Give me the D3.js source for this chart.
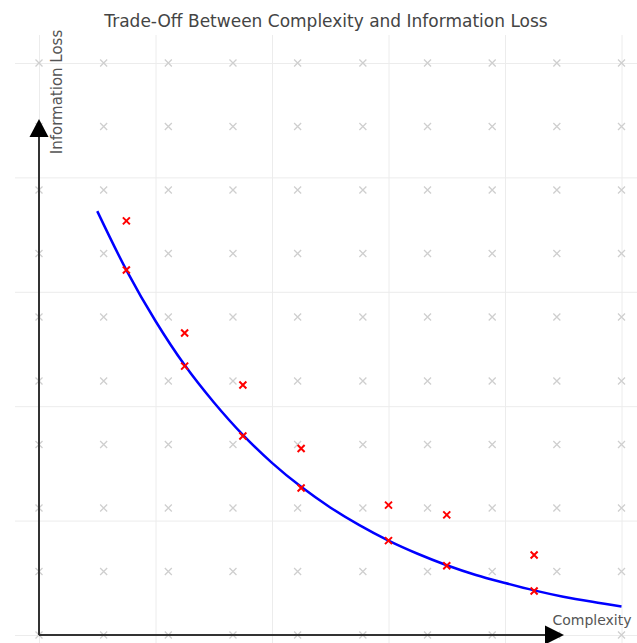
<!DOCTYPE html>
<html>
<head>
<meta charset="utf-8">
<script src="https://cdn.jsdelivr.net/npm/d3@7"></script>
<style>
  body { margin: 0; background: #fff; }
  svg { display: block; font-family: "DejaVu Sans", sans-serif; }
</style>
</head>
<body>
<div id="chart"></div>
<script>
// chart size and the pixel frame of the data area
const WIDTH = 637;
const HEIGHT = 643;
const X0 = 39, X1 = 621.5;   // x = 0 .. 10
const Y0 = 635, Y1 = 63;     // y = 0 .. 10

// background marker lattice (10 x 10)
const latticeX = [0, 1.11, 2.22, 3.33, 4.44, 5.56, 6.67, 7.78, 8.89, 10];
const latticeY = [0, 1.11, 2.22, 3.33, 4.44, 5.56, 6.67, 7.78, 8.89, 10];
const gridTicks = [0, 2, 4, 6, 8, 10];

// trade-off curve
const curveX = [1, 1.5, 2, 2.5, 3, 3.5, 4, 4.5, 5, 5.5, 6, 6.5, 7, 7.5, 8, 8.5, 9, 9.5, 10];
const curveY = [7.41, 6.38, 5.49, 4.72, 4.07, 3.5, 3.01, 2.59, 2.23, 1.92, 1.65, 1.42, 1.22, 1.05, 0.91, 0.78, 0.67, 0.58, 0.5];

// red sample points
const sampleX = [1.5, 2.5, 3.5, 4.5, 6, 7, 8.5];
const onCurveY = [6.38, 4.7, 3.48, 2.57, 1.65, 1.21, 0.77];
const observedY = [7.24, 5.28, 4.37, 3.26, 2.27, 2.1, 1.4];

const svg = d3.select("#chart")
  .append("svg")
  .attr("width", WIDTH)
  .attr("height", HEIGHT);

const x = d3.scaleLinear().domain([0, 10]).range([X0, X1]);
const y = d3.scaleLinear().domain([0, 10]).range([Y0, Y1]);

// faint grid
const gridTop = 35, gridLeft = 15;
svg.append("g")
  .attr("class", "grid-x")
  .attr("transform", `translate(0,${HEIGHT})`)
  .call(d3.axisBottom(x).tickValues(gridTicks).tickSize(-(HEIGHT - gridTop)).tickFormat(""))
  .call(g => g.select(".domain").remove());
svg.append("g")
  .attr("class", "grid-y")
  .attr("transform", `translate(${gridLeft},0)`)
  .call(d3.axisLeft(y).tickValues(gridTicks).tickSize(-(WIDTH - gridLeft)).tickFormat(""))
  .call(g => g.select(".domain").remove());
svg.selectAll(".grid-x line, .grid-y line")
  .attr("stroke", "#ececec")
  .attr("stroke-width", 1);

// cross marker path
function cross(s) {
  return `M${-s},${-s}L${s},${s}M${-s},${s}L${s},${-s}`;
}

// gray lattice markers
const lattice = [];
latticeY.forEach(ly => latticeX.forEach(lx => lattice.push([lx, ly])));
svg.append("g")
  .selectAll("path")
  .data(lattice)
  .join("path")
  .attr("transform", d => `translate(${x(d[0])},${y(d[1])})`)
  .attr("d", cross(3.5))
  .attr("stroke", "#cfcfcf")
  .attr("stroke-width", 1.3)
  .attr("fill", "none");

// axes with arrows
const axisG = svg.append("g");
axisG.append("line")
  .attr("x1", x(0)).attr("y1", y(0))
  .attr("x2", x(0)).attr("y2", 137)
  .attr("stroke", "#333").attr("stroke-width", 2);
axisG.append("path")
  .attr("d", `M${x(0)},119L${x(0) - 9.5},137L${x(0) + 9.5},137Z`)
  .attr("fill", "#000");
axisG.append("line")
  .attr("x1", x(0)).attr("y1", y(0))
  .attr("x2", 545).attr("y2", y(0))
  .attr("stroke", "#333").attr("stroke-width", 2);
axisG.append("path")
  .attr("d", `M564,${y(0)}L545,${y(0) - 9.5}L545,${y(0) + 9.5}Z`)
  .attr("fill", "#000");

// blue curve
const line = d3.line()
  .x(d => x(d[0]))
  .y(d => y(d[1]))
  .curve(d3.curveCatmullRom);
svg.append("path")
  .datum(curveX.map((cx, i) => [cx, curveY[i]]))
  .attr("d", line)
  .attr("fill", "none")
  .attr("stroke", "#0000ff")
  .attr("stroke-width", 2.5);

// red points
const red = svg.append("g");
red.selectAll("path.on")
  .data(sampleX.map((sx, i) => [sx, onCurveY[i]]))
  .join("path")
  .attr("class", "on")
  .attr("transform", d => `translate(${x(d[0])},${y(d[1])})`)
  .attr("d", cross(3.5))
  .attr("stroke", "#ff0000")
  .attr("stroke-width", 2)
  .attr("fill", "none");
red.selectAll("path.obs")
  .data(sampleX.map((sx, i) => [sx, observedY[i]]))
  .join("path")
  .attr("class", "obs")
  .attr("transform", d => `translate(${x(d[0])},${y(d[1])})`)
  .attr("d", cross(3.5))
  .attr("stroke", "#ff0000")
  .attr("stroke-width", 2)
  .attr("fill", "none");

// texts
svg.append("text")
  .attr("x", 326)
  .attr("y", 27)
  .attr("text-anchor", "middle")
  .attr("font-size", 17)
  .attr("fill", "#444")
  .text("Trade-Off Between Complexity and Information Loss");

svg.append("text")
  .attr("transform", "translate(62,92) rotate(-90)")
  .attr("text-anchor", "middle")
  .attr("font-size", 15)
  .attr("fill", "#555")
  .text("Information Loss");

svg.append("text")
  .attr("x", 592)
  .attr("y", 625)
  .attr("text-anchor", "middle")
  .attr("font-size", 14)
  .attr("fill", "#555")
  .text("Complexity");
</script>
</body>
</html>
